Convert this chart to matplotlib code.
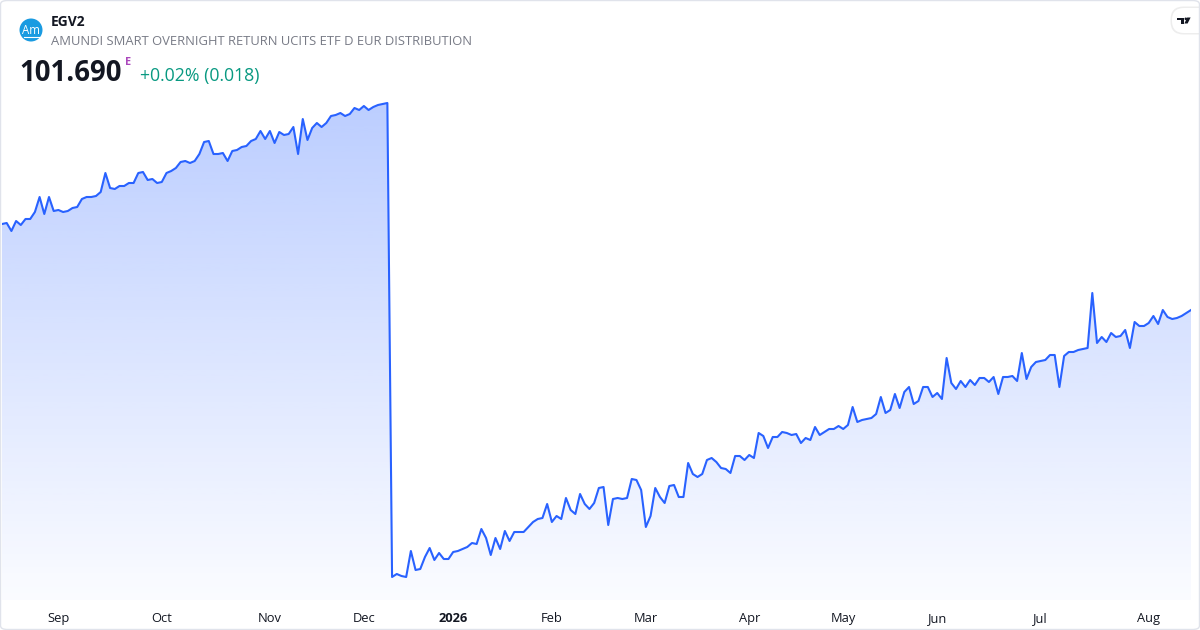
import numpy as np
import pandas as pd
import matplotlib
matplotlib.use("Agg")
import matplotlib.pyplot as plt
from matplotlib.patches import Ellipse, FancyBboxPatch, Polygon
import matplotlib.transforms as mtransforms

# ---------------- data ----------------
ticker = "EGV2"
fund_name = "AMUNDI SMART OVERNIGHT RETURN UCITS ETF D EUR DISTRIBUTION"
last_price = "101.690"
price_flag = "E"
change_text = "+0.02% (0.018)"

start_date = "2025-08-14"
end_date = "2026-08-14"
holidays = ["2025-12-24", "2025-12-25", "2025-12-26", "2025-12-31",
            "2026-01-01", "2026-04-03", "2026-04-06", "2026-05-01"]
month_labels = ["Sep", "Oct", "Nov", "Dec", "2026", "Feb", "Mar",
                "Apr", "May", "Jun", "Jul", "Aug"]

# daily closes before the December distribution
prices_before = [
    102.120, 102.125, 102.085, 102.135, 102.115, 102.145, 102.145, 102.180,
    102.255, 102.170, 102.255, 102.185, 102.190, 102.180, 102.185, 102.200,
    102.205, 102.245, 102.255, 102.255, 102.260, 102.280, 102.375, 102.300,
    102.295, 102.310, 102.310, 102.325, 102.325, 102.375, 102.380, 102.340,
    102.345, 102.325, 102.330, 102.375, 102.385, 102.400, 102.430, 102.435,
    102.425, 102.435, 102.470,
    102.530, 102.535, 102.470, 102.470, 102.475, 102.435, 102.485, 102.490,
    102.505, 102.510, 102.535, 102.545, 102.585, 102.545, 102.585, 102.525,
    102.580, 102.565, 102.570, 102.605, 102.470, 102.645, 102.540, 102.600,
    102.625, 102.605, 102.625, 102.660, 102.665, 102.675, 102.660, 102.670,
    102.700, 102.690, 102.710, 102.690, 102.705, 102.715, 102.720, 102.725,
]
# daily closes after the distribution
prices_after = [
    100.355, 100.370, 100.360, 100.355, 100.485, 100.390, 100.395, 100.455,
    100.500, 100.440, 100.475, 100.445, 100.445, 100.480, 100.485, 100.495,
    100.505, 100.525, 100.520, 100.595, 100.550, 100.465, 100.550, 100.495,
    100.585, 100.535, 100.580, 100.580, 100.580, 100.605, 100.630, 100.645,
    100.650, 100.720, 100.630, 100.660, 100.645, 100.750, 100.690, 100.670,
    100.770, 100.720, 100.695,
    100.725, 100.800, 100.805, 100.615, 100.745, 100.750, 100.745, 100.750,
    100.845, 100.840, 100.790, 100.605, 100.660, 100.800, 100.755, 100.725,
    100.810, 100.815, 100.755, 100.755, 100.925, 100.870, 100.855, 100.870,
    100.940, 100.950, 100.930, 100.900, 100.895, 100.875, 100.960, 100.960,
    100.940, 100.965, 100.950, 101.075, 101.060,
    101.000, 101.055, 101.055, 101.080, 101.075, 101.065, 101.070, 101.025,
    101.050, 101.040, 101.105, 101.065, 101.080, 101.095, 101.095, 101.110,
    101.095, 101.115, 101.205, 101.130, 101.140, 101.145, 101.150, 101.170,
    101.255, 101.175, 101.190, 101.270, 101.200, 101.280, 101.305, 101.220,
    101.235, 101.305, 101.305, 101.255, 101.275, 101.245, 101.450, 101.325,
    101.295, 101.335, 101.305, 101.340, 101.315, 101.350, 101.350, 101.330,
    101.355, 101.270, 101.355, 101.355, 101.360, 101.335, 101.475, 101.345,
    101.405, 101.430, 101.435, 101.440, 101.465, 101.465, 101.305, 101.460,
    101.480, 101.480, 101.490, 101.495, 101.500, 101.775, 101.525, 101.555,
    101.530, 101.575, 101.555, 101.560, 101.590, 101.500, 101.630, 101.610,
    101.610, 101.625, 101.660, 101.620, 101.690, 101.655, 101.645, 101.650,
    101.660, 101.675, 101.690,
]

# ---------------- derived ----------------
days = pd.bdate_range(start_date, end_date)
days = days[~days.isin(pd.to_datetime(holidays))]
prices = np.array(prices_before + prices_after)
n = min(len(days), len(prices))
days = days[:n]
prices = prices[:n]
xs = np.arange(n)

month_keys = days.year * 100 + days.month
first_idx = [i for i in range(1, n) if month_keys[i] != month_keys[i - 1]]

W, H = 1200, 630
fig = plt.figure(figsize=(W / 100, H / 100), dpi=100)
fig.patch.set_facecolor("white")

def fx(x):
    return x / W

def fy(y):
    return 1 - y / H

def pts(coords):
    return [(fx(a), fy(b)) for a, b in coords]

ax_left, ax_right, ax_top, ax_bot = 2, 1191, 95, 600
ax = fig.add_axes([fx(ax_left), fy(ax_bot), (ax_right - ax_left) / W, (ax_bot - ax_top) / H])
ax.set_facecolor("none")
for s in ax.spines.values():
    s.set_visible(False)
ax.set_xticks([])
ax.set_yticks([])

ylo, yhi = 100.24, 102.765
ax.set_xlim(0, n - 1)
ax.set_ylim(ylo, yhi)

blue = np.array([41, 98, 255]) / 255.0
grad = np.zeros((300, 1, 4))
grad[..., :3] = blue
grad[:, 0, 3] = np.linspace(0.32, 0.02, 300)
im = ax.imshow(grad, extent=[0, n - 1, ylo, yhi], aspect="auto", origin="upper",
               zorder=1, interpolation="bilinear")
verts = [(0, ylo)] + list(zip(xs, prices)) + [(n - 1, ylo)]
poly = Polygon(verts, closed=True, facecolor="none", edgecolor="none", transform=ax.transData)
ax.add_patch(poly)
im.set_clip_path(poly)

ax.plot(xs, prices, color="#2962FF", lw=1.5, zorder=3, solid_joinstyle="round")

# x labels
trans = mtransforms.blended_transform_factory(ax.transData, fig.transFigure)
font = "Open Sans"
for idx, lab in zip(first_idx, month_labels):
    ax.text(idx, fy(622), lab, transform=trans, ha="center", va="baseline",
            fontsize=9.3, color="#131722", family=font,
            fontweight="bold" if lab.isdigit() else "normal", clip_on=False)

# header
logo = Ellipse((fx(31), fy(30)), width=23 / W, height=23 / H, transform=fig.transFigure,
               facecolor="#1a9be1", edgecolor="none")
fig.patches.append(logo)
fig.text(fx(31), fy(34.5), "Am", color="white", fontsize=8.3, family=font,
         ha="center", va="baseline")
fig.add_artist(plt.Line2D([fx(23.5), fx(38.5)], [fy(37), fy(37)], color="white", lw=0.8))

fig.text(fx(51), fy(26.5), ticker, fontsize=10, fontweight="bold", color="#131722",
         family=font, va="baseline")
fig.text(fx(51), fy(45), fund_name, fontsize=9.35, color="#787b86", family=font,
         va="baseline")
fig.text(fx(19), fy(81), last_price, fontsize=19.8, fontweight="bold",
         color="#131722", family=font, va="baseline")
fig.text(fx(125), fy(65), price_flag, fontsize=7.8, fontweight="bold", color="#ab47bc",
         family=font, va="baseline")
fig.text(fx(140), fy(81.5), change_text, fontsize=12.7, color="#089981", family=font,
         va="baseline")

# TradingView badge (pixel coordinates)
ident = mtransforms.IdentityTransform()
shadow = FancyBboxPatch((1170.5, H - 34.5), 50, 28,
                        boxstyle="round,pad=0,rounding_size=13",
                        transform=ident, facecolor="#000000", alpha=0.07,
                        edgecolor="none")
fig.patches.append(shadow)
badge = FancyBboxPatch((1172, H - 33), 50, 25,
                       boxstyle="round,pad=0,rounding_size=12",
                       transform=ident, facecolor="white", edgecolor="none")
fig.patches.append(badge)
tv_t = Polygon(pts([(1177, 17.5), (1184, 17.5), (1184, 23.5), (1181, 23.5),
                    (1181, 20), (1177, 20)]), closed=True, transform=fig.transFigure,
               facecolor="#131722", edgecolor="none")
fig.patches.append(tv_t)
tv_dot = Ellipse((fx(1185.8), fy(18.8)), 2.6 / W, 2.6 / H, transform=fig.transFigure,
                 facecolor="#131722", edgecolor="none")
fig.patches.append(tv_dot)
tv_slash = Polygon(pts([(1187.2, 17.5), (1190.6, 17.5), (1187.6, 23.5), (1184.4, 23.5)]),
                   closed=True, transform=fig.transFigure, facecolor="#131722",
                   edgecolor="none")
fig.patches.append(tv_slash)

# outer border
border = FancyBboxPatch((0.5 / W, 0.5 / H), (W - 1) / W, (H - 1) / H,
                        boxstyle="round,pad=0,rounding_size=0.006",
                        transform=fig.transFigure, facecolor="none",
                        edgecolor="#e0e3eb", lw=1.0)
fig.patches.append(border)

fig.savefig("out.png", dpi=100)
